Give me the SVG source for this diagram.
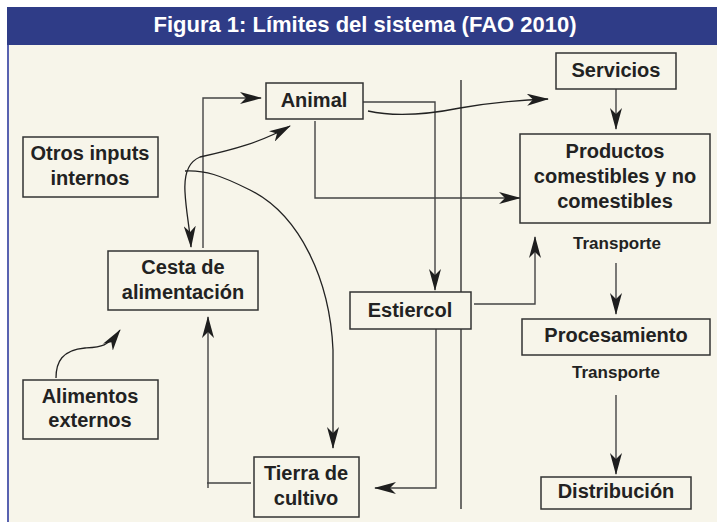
<svg xmlns="http://www.w3.org/2000/svg" width="717" height="522" viewBox="0 0 717 522">
<defs>
<marker id="ah" markerUnits="userSpaceOnUse" markerWidth="22" markerHeight="12" refX="21" refY="6" orient="auto" viewBox="0 0 22 12">
<path d="M0,0 L22,6 L0,12 L6,6 z" fill="#1e1e1e"/>
</marker>
<marker id="ahs" markerUnits="userSpaceOnUse" markerWidth="22" markerHeight="12" refX="21" refY="6" orient="auto-start-reverse" viewBox="0 0 22 12">
<path d="M0,0 L22,6 L0,12 L6,6 z" fill="#1e1e1e"/>
</marker>
<style>
.box{fill:#f7f5ea;stroke:#333;stroke-width:1.5}
.t{font-family:"Liberation Sans",Arial,sans-serif;font-weight:bold;font-size:20px;fill:#222;text-anchor:middle}
.s{font-size:17px}
.ln{fill:none;stroke:#444;stroke-width:1.4}
.cv{fill:none;stroke:#222;stroke-width:1.3}
.arr{marker-end:url(#ah)}
.both{marker-start:url(#ahs);marker-end:url(#ahs)}
</style>
</defs>
<rect x="0" y="0" width="717" height="522" fill="#ffffff"/>
<rect x="7" y="45" width="710" height="477" fill="#f7f5ea"/>
<rect x="7" y="7" width="710" height="38" fill="#2f3c87"/>
<line x1="8" y1="45" x2="8" y2="522" stroke="#5862b0" stroke-width="2"/>
<text x="365" y="32" font-family="Liberation Sans,Arial,sans-serif" font-weight="bold" font-size="22" fill="#ffffff" text-anchor="middle">Figura 1: Límites del sistema (FAO 2010)</text>

<line x1="461" y1="80" x2="461" y2="509" stroke="#333" stroke-width="1.4"/>

<g id="connectors">
<path class="ln arr" d="M203,248 V98 H261"/>
<path class="cv both" d="M290,126 C262,142 232,150 200,157 C188,162 184,175 185,192 C186,212 190,230 191,247"/>
<path class="cv arr" d="M185,171 C205,170 220,175 250,190 C300,215 330,280 333,350 L333,448"/>
<path class="ln arr" d="M363,102 H435 V290"/>
<path class="cv arr" d="M368,111 C390,116 420,116 460,108 C490,103 520,100 548,99"/>
<path class="ln arr" d="M315,121 V198 H520"/>
<path class="ln arr" d="M616,89 V129"/>
<path class="ln arr" d="M474,304 H535 V237"/>
<path class="ln arr" d="M616,263 V314"/>
<path class="ln arr" d="M616,395 V474"/>
<path class="ln arr" d="M436,329 V488 H375"/>
<path class="ln arr" d="M251,483 H207 M208,488 V317"/>
<path class="cv arr" d="M56,378 C56,362 62,350 85,348 C100,347 108,347 120,330"/>
</g>

<g id="animal"><rect class="box" x="266" y="83" width="97" height="36"/><text class="t" x="314" y="107">Animal</text></g>
<g id="otros"><rect class="box" x="23" y="137" width="135" height="60"/><text class="t" x="90" y="160">Otros inputs</text><text class="t" x="90" y="185">internos</text></g>
<g id="cesta"><rect class="box" x="108" y="251" width="150" height="59"/><text class="t" x="183" y="274">Cesta de</text><text class="t" x="183" y="299">alimentación</text></g>
<g id="alimentos"><rect class="box" x="23" y="380" width="135" height="59"/><text class="t" x="90" y="403">Alimentos</text><text class="t" x="90" y="427">externos</text></g>
<g id="tierra"><rect class="box" x="254" y="457" width="105" height="60"/><text class="t" x="306" y="480">Tierra de</text><text class="t" x="306" y="505">cultivo</text></g>
<g id="estiercol"><rect class="box" x="350" y="292" width="121" height="37"/><text class="t" x="410" y="317">Estiercol</text></g>
<g id="servicios"><rect class="box" x="556" y="53" width="120" height="36"/><text class="t" x="616" y="77">Servicios</text></g>
<g id="productos"><rect class="box" x="520" y="134" width="190" height="89"/><text class="t" x="615" y="158">Productos</text><text class="t" x="615" y="183">comestibles y no</text><text class="t" x="615" y="208">comestibles</text></g>
<g id="transporte1"><text class="t s" x="617" y="249">Transporte</text></g>
<g id="procesamiento"><rect class="box" x="522" y="319" width="188" height="36"/><text class="t" x="616" y="342">Procesamiento</text></g>
<g id="transporte2"><text class="t s" x="616" y="378">Transporte</text></g>
<g id="distribucion"><rect class="box" x="541" y="477" width="150" height="32"/><text class="t" x="616" y="498">Distribución</text></g>
</svg>
